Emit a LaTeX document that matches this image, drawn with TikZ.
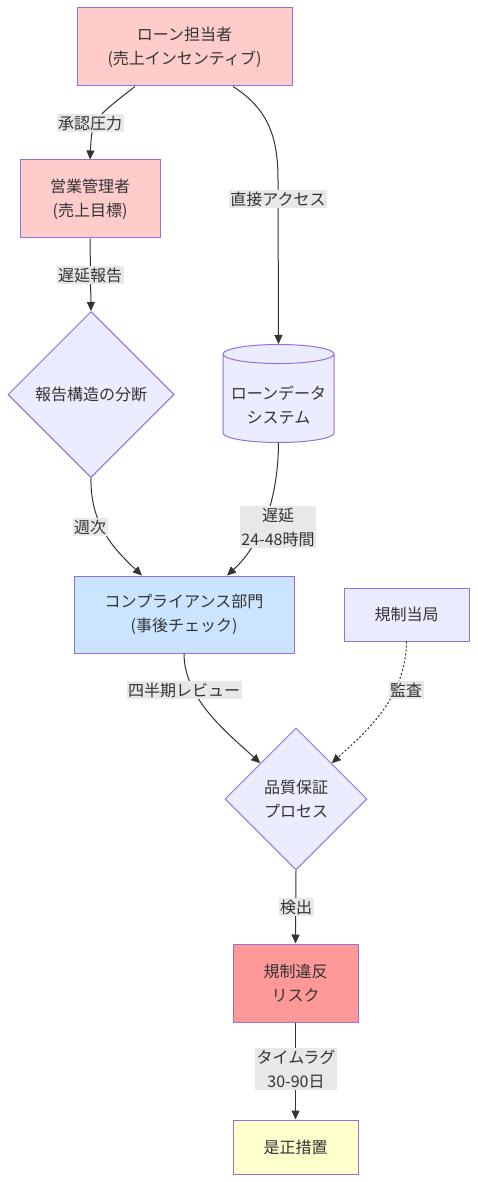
\documentclass[tikz,border=0pt]{standalone}
\usepackage{fontspec}
\setmainfont{Noto Sans CJK JP}
\usetikzlibrary{shapes.geometric,arrows.meta}
\definecolor{edgeline}{HTML}{333333}
\definecolor{nodeline}{HTML}{9370DB}
\definecolor{plainfill}{HTML}{ECECFF}
\definecolor{pinkfill}{HTML}{FFCCCC}
\definecolor{redfill}{HTML}{FF9999}
\definecolor{bluefill}{HTML}{CCE5FF}
\definecolor{yellowfill}{HTML}{FFFFCC}
\definecolor{labelfill}{HTML}{E8E8E8}
\tikzset{
  chartbox/.style={rectangle, draw=nodeline, line width=1pt, align=center, text=edgeline,
    font=\fontsize{16}{24}\selectfont, inner sep=0pt},
  chartdiamond/.style={diamond, aspect=1, draw=nodeline, line width=1pt, fill=plainfill,
    align=center, text=edgeline, font=\fontsize{16}{24}\selectfont, inner sep=0pt},
  flowlabel/.style={fill=labelfill, align=center, text=edgeline, inner sep=1.5pt,
    font=\fontsize{16}{24}\selectfont},
  flow/.style={draw=edgeline, line width=1pt, -{Triangle[length=9pt,width=8pt]}}
}
\begin{document}
\begin{tikzpicture}[x=1pt,y=1pt]
        \useasboundingbox (0,0) rectangle (477,-1182);

        % The Top Rows (Sales Side)
        \node[chartbox, fill=pinkfill, minimum width=215, minimum height=78] (officer) at (184.5,-47) {ローン担当者\\(売上インセンティブ)};
        \node[chartbox, fill=pinkfill, minimum width=140, minimum height=78] (manager) at (90,-199) {営業管理者\\(売上目標)};
        \node[chartdiamond, minimum width=166, minimum height=166] (split) at (91,-394.5) {報告構造の分断};
        \node[cylinder, shape border rotate=90, aspect=0.2, draw=nodeline, line width=1pt,
          cylinder uses custom fill, cylinder body fill=plainfill, cylinder end fill=plainfill,
          minimum width=111, minimum height=98, align=center, text=edgeline,
          font=\fontsize{16}{24}\selectfont, inner sep=0pt] (loandb) at (278.5,-398.5) {\rule{0pt}{26pt}ローンデータ\\システム};

        % The Middle Rows (Checks)
        \node[chartbox, fill=bluefill, minimum width=220, minimum height=77] (compliance) at (184,-614.5) {コンプライアンス部門\\(事後チェック)};
        \node[chartbox, fill=plainfill, minimum width=125, minimum height=53] (regulator) at (406.5,-614.5) {規制当局};
        \node[chartdiamond, minimum width=142, minimum height=142] (qa) at (296,-799) {品質保証\\プロセス};

        % The Bottom Rows (Outcome)
        \node[chartbox, fill=redfill, minimum width=125, minimum height=78] (violation) at (295.5,-983) {規制違反\\リスク};
        \node[chartbox, fill=yellowfill, minimum width=125, minimum height=54] (remedy) at (295.5,-1147) {是正措置};

        % The Connectors
        \draw[flow] ([xshift=-49.5pt]officer.south) .. controls (92,-120) .. (manager.north);
        \draw[flow] ([xshift=48.5pt]officer.south) .. controls (270,-110) and (278,-140) .. (278,-180) -- (loandb.north);
        \draw[flow] (manager.south) -- (split.north);
        \draw[flow] (split.south) .. controls (90,-525) and (115,-550) .. ([xshift=-42pt]compliance.north);
        \draw[flow] (loandb.south) .. controls (278,-510) and (255,-550) .. ([xshift=43pt]compliance.north);
        \draw[flow] (compliance.south) .. controls (184,-700) and (230,-735) .. (qa.north west);
        \draw[flow, dash pattern=on 2pt off 2pt] (regulator.south) .. controls (406,-700) and (362,-735) .. (qa.north east);
        \draw[flow] (qa.south) -- (violation.north);
        \draw[flow] (violation.south) -- (remedy.north);

        % The Labels
        \node[flowlabel] (lpressure) at (90,-123) {承認圧力};
        \node[flowlabel] (laccess) at (278,-199) {直接アクセス};
        \node[flowlabel] (lreport) at (90,-275) {遅延報告};
        \node[flowlabel] (lweekly) at (90,-527) {週次};
        \node[flowlabel] (ldelay) at (278,-527) {遅延\\24-48時間};
        \node[flowlabel] (lquarter) at (184,-690) {四半期レビュー};
        \node[flowlabel] (laudit) at (406,-690) {監査};
        \node[flowlabel] (ldetect) at (296,-907) {検出};
        \node[flowlabel] (llag) at (296,-1069) {タイムラグ\\30-90日};
    \end{tikzpicture}
\end{document}
